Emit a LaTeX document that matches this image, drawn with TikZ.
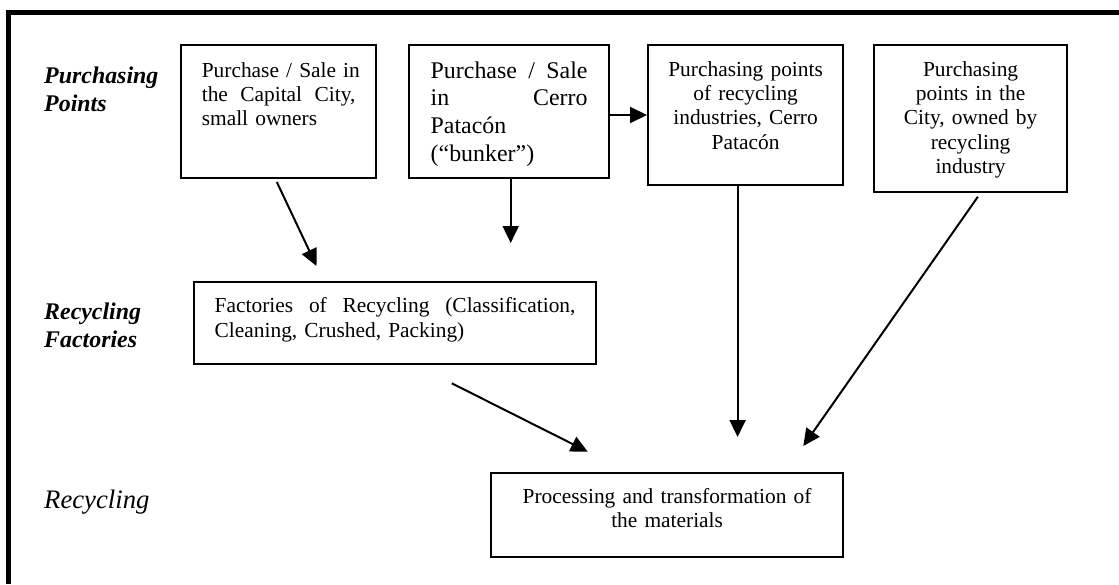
\documentclass[tikz,border=0pt]{standalone}
\usepackage{fontspec}
\setmainfont{Liberation Serif}
\usetikzlibrary{arrows.meta}
\newcommand\bxfont{\fontsize{21.4pt}{24.4pt}\selectfont}
\newcommand\bxfontB{\fontsize{23.9pt}{27.7pt}\selectfont}
\newcommand\lblfont{\fontsize{23.9pt}{27.7pt}\selectfont}
\newcommand\lblfontC{\fontsize{26.7pt}{30pt}\selectfont}
\begin{document}
\begin{tikzpicture}[x=1pt,y=-1pt,
  box/.style={draw, line width=2.2pt, inner ysep=0pt, anchor=north west, font=\bxfont},
  lbl/.style={anchor=base west, inner sep=0pt, align=left, text width=150pt, font=\lblfont\bfseries\itshape},
  arr/.style={line width=2pt, -{Triangle[length=17pt,width=16pt]}},
  frame/.style={line width=4.6pt, line join=miter}]
\useasboundingbox (0,0) rectangle (1119,584);
% outer frame (cut by the page on the right and at the bottom)
\draw[frame] (1119,12.5) -- (8.5,12.5) -- (8.5,584);

% row labels
\node[lbl] (l1) at (44,83.3) {Purchasing\\Points};
\node[lbl] (l2) at (44,319.3) {Recycling\\Factories};
\node[lbl, font=\lblfontC\itshape] (l3) at (44,508.3) {Recycling};

% purchasing points
\node[box, inner xsep=20.7pt, text width=153.6pt, align=left, text height=32pt, text depth=101pt]
  (b1) at (180,44) {\makebox[153.6pt][s]{Purchase / Sale in}\\the\hfill Capital\hfill City,\\small owners};
\node[box, font=\bxfontB, inner xsep=21.6pt, text width=156.8pt, align=left, text height=33pt, text depth=100pt]
  (b2) at (408,44) {Purchase\hfill/\hfill Sale\\in\hfill Cerro\\Patacón\\(“bunker”)};
\node[box, inner xsep=17.5pt, text width=160pt, align=center, text height=31pt, text depth=109pt]
  (b3) at (647,44) {Purchasing points\\of recycling\\industries, Cerro\\Patacón};
\node[box, inner xsep=16.5pt, text width=160pt, align=center, text height=31pt, text depth=116pt]
  (b4) at (873,44) {Purchasing\\points in the\\City, owned by\\recycling\\industry};

% recycling factories
\node[box, inner xsep=20.6pt, text width=360.8pt, align=left, text height=30.7pt, text depth=51.3pt]
  (f) at (193,281) {Factories\hfill of\hfill Recycling\hfill (Classification,\\Cleaning, Crushed, Packing)};

% recycling
\node[box, inner xsep=16pt, text width=320pt, align=center, text height=30.3pt, text depth=53.7pt]
  (p) at (490,472) {Processing and transformation of\\the materials};

% connectors
\coordinate (a1s) at (276.8,182);
\coordinate (a1e) at (316.5,266);
\coordinate (a2e) at (510.7,243);
\coordinate (a3)  at (0,115);
\coordinate (a4e) at (737.6,437);
\coordinate (a5s) at (977.9,196.7);
\coordinate (a5e) at (803.3,446);
\coordinate (a6s) at (451.8,383.3);
\coordinate (a6e) at (587.8,451.7);

\draw[arr] (a1s) -- (a1e);
\draw[arr] (b2.south -| a2e) -- (a2e);
\draw[arr] (b2.east |- a3) -- (b3.west |- a3);
\draw[arr] (b3.south -| a4e) -- (a4e);
\draw[arr] (a5s) -- (a5e);
\draw[arr] (a6s) -- (a6e);
\end{tikzpicture}
\end{document}
